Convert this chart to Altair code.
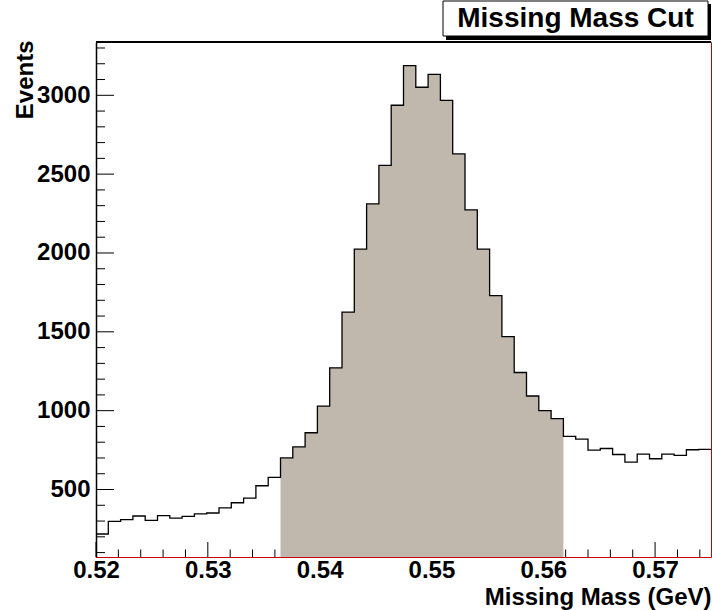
import altair as alt
import pandas as pd

# ---- data ----
bin_start = 0.52
bin_width = 0.0011
counts = [218, 298, 309, 332, 304, 334, 319, 330, 345, 351,
          383, 416, 446, 524, 577, 700, 771, 860, 1029, 1272,
          1625, 2024, 2311, 2556, 2937, 3188, 3051, 3133, 2968, 2628,
          2273, 2024, 1730, 1470, 1242, 1093, 1000, 950, 837, 820,
          750, 760, 722, 674, 725, 695, 725, 716, 752, 754]
cut_first_bin = 15
cut_last_bin = 37

x_major = [0.52, 0.53, 0.54, 0.55, 0.56, 0.57]
x_minor = [0.522, 0.524, 0.526, 0.528, 0.532, 0.534, 0.536, 0.538,
           0.542, 0.544, 0.546, 0.548, 0.552, 0.554, 0.556, 0.558,
           0.562, 0.564, 0.566, 0.568, 0.572, 0.574]
y_major = [500, 1000, 1500, 2000, 2500, 3000]
y_minor = [100, 200, 300, 400, 600, 700, 800, 900, 1100, 1200, 1300, 1400,
           1600, 1700, 1800, 1900, 2100, 2200, 2300, 2400, 2600, 2700, 2800,
           2900, 3100, 3200, 3300]

title_text = "Missing Mass Cut"
x_title = "Missing Mass (GeV)"
y_title = "Events"

# ---- tables ----
lo = [bin_start + i * bin_width for i in range(len(counts))]
hi = [bin_start + (i + 1) * bin_width for i in range(len(counts))]

step_rows = []
for i, c in enumerate(counts):
    step_rows.append({"x": lo[i], "y": c, "o": 2 * i})
    step_rows.append({"x": hi[i], "y": c, "o": 2 * i + 1})
step_df = pd.DataFrame(step_rows)

cut_x = lo[cut_first_bin:cut_last_bin + 1] + [hi[cut_last_bin]]
cut_y = counts[cut_first_bin:cut_last_bin + 1] + [counts[cut_last_bin]]
cut_df = pd.DataFrame({"x": cut_x, "y": cut_y})

W, H = 615, 515
FONT = "Liberation Sans"

xscale = alt.Scale(domain=[0.52, 0.575], nice=False, zero=False)
yscale = alt.Scale(domain=[72, 3338], nice=False, zero=False)

xaxis = alt.Axis(values=x_major, format=".2f", ticks=False, domain=False, grid=False,
                 labelFont=FONT, labelFontWeight="bold", labelFontSize=24,
                 labelColor="black", labelPadding=1, labelFlush=False,
                 title=x_title, titleFont=FONT, titleFontWeight="bold", titleFontSize=24,
                 titleColor="black", titleX=W, titleY=47, titleAlign="right",
                 titleBaseline="alphabetic", titleAngle=0)
yaxis = alt.Axis(values=y_major, format="d", ticks=False, domain=True,
                 domainColor="black", domainWidth=1.5, grid=False,
                 labelFont=FONT, labelFontWeight="bold", labelFontSize=24,
                 labelColor="black", labelPadding=6,
                 title=y_title, titleFont=FONT, titleFontWeight="bold", titleFontSize=24,
                 titleColor="black", titleAngle=-90, titleAlign="right",
                 titleX=-64, titleY=-2, titleBaseline="alphabetic")

X = alt.X("x:Q", scale=xscale, axis=xaxis)
Y = alt.Y("y:Q", scale=yscale, axis=yaxis, stack=None)

# ticks inside the frame
ytick_major = alt.Chart(pd.DataFrame({"y": y_major})).mark_rule(color="black", strokeWidth=1).encode(
    y=Y, x=alt.value(0), x2=alt.value(18))
ytick_minor = alt.Chart(pd.DataFrame({"y": y_minor})).mark_rule(color="black", strokeWidth=1).encode(
    y=Y, x=alt.value(0), x2=alt.value(9))
xtick_major = alt.Chart(pd.DataFrame({"x": x_major})).mark_rule(color="black", strokeWidth=1).encode(
    x=X, y=alt.value(H), y2=alt.value(H - 15))
xtick_minor = alt.Chart(pd.DataFrame({"x": x_minor})).mark_rule(color="black", strokeWidth=1).encode(
    x=X, y=alt.value(H), y2=alt.value(H - 7.5))

cut_fill = alt.Chart(cut_df).mark_area(color="#c0b7ad", opacity=1, clip=True,
                                       interpolate="step-after").encode(
    x=X, y=Y, y2=alt.value(H))

step_line = alt.Chart(step_df).mark_line(color="black", strokeWidth=1.3, clip=True).encode(
    x=X, y=Y, order="o:Q")

top_line = alt.Chart(pd.DataFrame({"a": [0]})).mark_rule(color="black", strokeWidth=2).encode(
    x=alt.value(0), x2=alt.value(W), y=alt.value(0))

shadow = alt.Chart(pd.DataFrame({"a": [0]})).mark_rect(color="black").encode(
    x=alt.value(350), x2=alt.value(615), y=alt.value(-38), y2=alt.value(-2))
box = alt.Chart(pd.DataFrame({"a": [0]})).mark_rect(fill="white", stroke="black", strokeWidth=1).encode(
    x=alt.value(347), x2=alt.value(612), y=alt.value(-41), y2=alt.value(-6))
title = alt.Chart(pd.DataFrame({"t": [title_text]})).mark_text(
    font=FONT, fontWeight="bold", fontSize=28, color="black", align="center", baseline="middle").encode(
    text="t:N", x=alt.value(479.5), y=alt.value(-23))

chart = alt.layer(
    ytick_minor, ytick_major, xtick_minor, xtick_major,
    cut_fill, step_line, top_line, shadow, box, title
).properties(
    width=W, height=H,
    autosize=alt.AutoSizeParams(type="none"),
    padding={"left": 96, "top": 42, "right": 1, "bottom": 53},
    background="white",
).configure_view(stroke="#cc0000", strokeWidth=1)

chart.save("out.html", embed_options={"renderer": "svg", "actions": False})
